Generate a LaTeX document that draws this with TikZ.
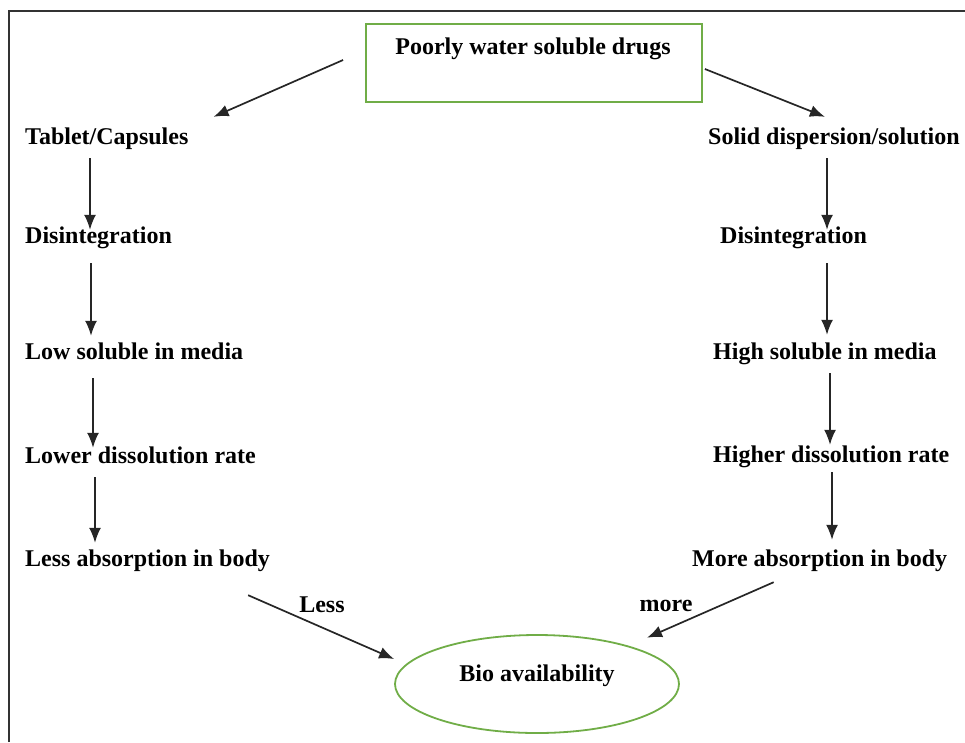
\documentclass[tikz,border=0pt]{standalone}
\usepackage{fontspec}
\setmainfont{Liberation Serif}
\usetikzlibrary{calc,positioning,shapes.geometric,arrows.meta}
\definecolor{leafgreen}{RGB}{112,173,71}

\begin{document}
\begin{tikzpicture}
[x=1pt,y=-1pt,
lbl/.style={font=\fontsize{24}{28}\selectfont\bfseries,inner sep=0pt,
	text height=17pt,text depth=5pt,anchor=west},
arr/.style={draw=black!85,line width=1.7pt,-{Latex[length=15pt,width=12pt]}},
greenline/.style={draw=leafgreen,line width=1.8pt}]

\useasboundingbox (0,0) rectangle (965,742);
% frame
\draw[black!80,line width=1.5pt] (9,742) -- (9,11) -- (965,11);

% top
\node[greenline,minimum width=336pt,minimum height=78pt] (drugs) at (534,63) {};
\node[lbl,anchor=center] (drugstxt) at (533,48) {Poorly water soluble drugs};

% left column
\node[lbl] (tab) at (25,138) {Tablet/Capsules};
\node[lbl] (ldis) at (25,237) {Disintegration};
\node[lbl] (lsol) at (25,353) {Low soluble in media};
\node[lbl] (lrate) at (25,457) {Lower dissolution rate};
\node[lbl] (labs) at (25,560) {Less absorption in body};

% right column
\node[lbl] (solid) at (708,138) {Solid dispersion/solution};
\node[lbl] (rdis) at (720,237) {Disintegration};
\node[lbl] (rsol) at (713,353) {High soluble in media};
\node[lbl] (rrate) at (713,456) {Higher dissolution rate};
\node[lbl] (rabs) at (692,560) {More absorption in body};

% bottom
\node[greenline,ellipse,minimum width=284pt,minimum height=98pt] (bio) at (537,684) {};
\node[lbl,anchor=center] (biotxt) at (537,675) {Bio availability};
\node[lbl,anchor=center] (less) at (322,606) {Less};
\node[lbl,anchor=center] (more) at (666,605) {more};

% arrows
\draw[arr] ([shift={(-22pt,3pt)}]drugs.west) -- ([shift={(25pt,10pt)}]tab.north east);
\draw[arr] ([shift={(2pt,-6pt)}]drugs.east) -- ([shift={(-9pt,10pt)}]solid.north);

\foreach \a/\b/\x/\s/\e in {tab/ldis/90/9/-4, ldis/lsol/91/15/6, lsol/lrate/93/14/-2, lrate/labs/95/9/6,
	solid/rdis/827/9/-4, rdis/rsol/827/15/7, rsol/rrate/830/9/0, rrate/rabs/832/5/9}
{
	\coordinate (ax) at (\x,0);
	\draw[arr,shorten <=\s pt,shorten >=\e pt] (\a.south -| ax) -- (\b.north -| ax);
}

\draw[arr] ([shift={(-22pt,-24pt)}]labs.south east) -- ([shift={(0pt,25pt)}]bio.west);
\draw[arr] ([shift={(-46pt,-11pt)}]rabs.south) -- ([shift={(9pt,11pt)}]bio.north east);

\end{tikzpicture}
\end{document}
